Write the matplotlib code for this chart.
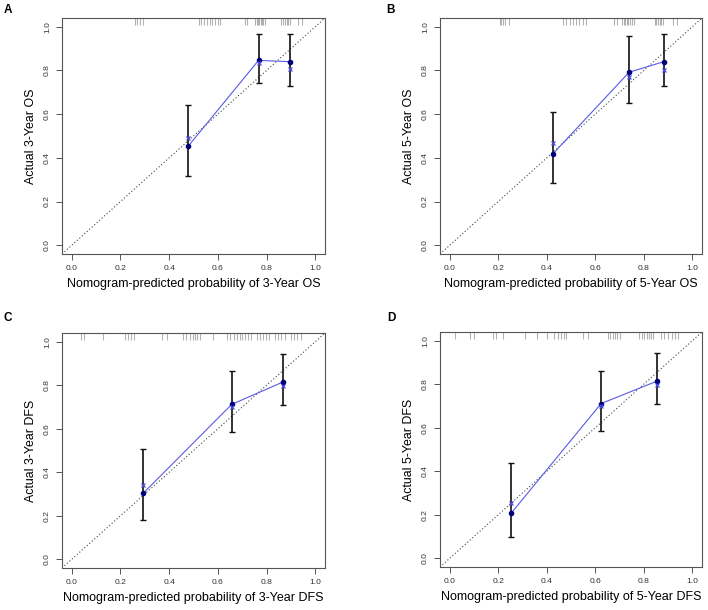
import matplotlib
matplotlib.use("Agg")
import matplotlib.pyplot as plt
import matplotlib.transforms as mtransforms

plt.rcParams['font.family'] = ['Liberation Sans', 'DejaVu Sans']

W, H = 708, 610

panel_letters = ["A", "B", "C", "D"]
x_labels = ["Nomogram-predicted probability of 3-Year OS",
            "Nomogram-predicted probability of 5-Year OS",
            "Nomogram-predicted probability of 3-Year DFS",
            "Nomogram-predicted probability of 5-Year DFS"]
y_labels = ["Actual 3-Year OS", "Actual 5-Year OS",
            "Actual 3-Year DFS", "Actual 5-Year DFS"]

# predicted (mean) probability per group
pred_A = [0.478, 0.767, 0.898]
pred_B = [0.425, 0.740, 0.882]
pred_C = [0.294, 0.657, 0.868]
pred_D = [0.254, 0.624, 0.854]
# observed (Kaplan-Meier) probability
obs_A = [0.453, 0.846, 0.840]
obs_B = [0.418, 0.792, 0.840]
obs_C = [0.304, 0.712, 0.815]
obs_D = [0.208, 0.711, 0.814]
# 95% CI lower / upper
low_A = [0.319, 0.742, 0.728]
up_A = [0.643, 0.969, 0.969]
low_B = [0.285, 0.653, 0.728]
up_B = [0.612, 0.957, 0.969]
low_C = [0.182, 0.585, 0.708]
up_C = [0.507, 0.864, 0.942]
low_D = [0.098, 0.585, 0.708]
up_D = [0.437, 0.863, 0.942]
# bias-corrected estimates
bc_A = [0.490, 0.832, 0.806]
bc_B = [0.469, 0.771, 0.800]
bc_C = [0.342, 0.698, 0.797]
bc_D = [0.252, 0.698, 0.798]

# rug: distribution of predicted probabilities
rug_A = [0.260, 0.269, 0.280, 0.294,
         0.521, 0.532, 0.544, 0.555, 0.566, 0.577, 0.588, 0.599, 0.610,
         0.712, 0.721, 0.754, 0.759, 0.765, 0.770, 0.776, 0.781, 0.786, 0.792,
         0.861, 0.868, 0.875, 0.882, 0.890, 0.898, 0.931, 0.944]
rug_B = [0.207, 0.212, 0.220, 0.227, 0.245,
         0.468, 0.480, 0.497, 0.508, 0.520, 0.535, 0.548, 0.560,
         0.676, 0.688, 0.712, 0.718, 0.724, 0.730, 0.736, 0.742, 0.750, 0.758,
         0.845, 0.852, 0.860, 0.866, 0.872, 0.880, 0.922, 0.936]
rug_C = [0.040, 0.050, 0.127, 0.220, 0.230, 0.245, 0.256,
         0.371, 0.392, 0.456, 0.470, 0.485, 0.497, 0.505, 0.515, 0.528,
         0.582, 0.637, 0.650, 0.665, 0.680, 0.690, 0.700, 0.712, 0.722, 0.738,
         0.760, 0.772, 0.785, 0.796, 0.810, 0.834, 0.846, 0.858, 0.876,
         0.902, 0.914, 0.926, 0.940]
rug_D = [0.023, 0.085, 0.100, 0.180, 0.192, 0.220, 0.310, 0.360, 0.400,
         0.430, 0.445, 0.460, 0.470, 0.480, 0.550, 0.570,
         0.653, 0.662, 0.672, 0.682, 0.690, 0.700,
         0.780, 0.792, 0.800, 0.812, 0.822, 0.830, 0.840,
         0.870, 0.885, 0.900, 0.915, 0.930, 0.940]

preds = [pred_A, pred_B, pred_C, pred_D]
obss = [obs_A, obs_B, obs_C, obs_D]
lows = [low_A, low_B, low_C, low_D]
ups = [up_A, up_B, up_C, up_D]
bcs = [bc_A, bc_B, bc_C, bc_D]
rugs = [rug_A, rug_B, rug_C, rug_D]
ticks = [0.0, 0.2, 0.4, 0.6, 0.8, 1.0]
tick_labels = ["0.0", "0.2", "0.4", "0.6", "0.8", "1.0"]

# pixel boxes: left, right, top, bottom
boxes = [(62, 325, 18, 254), (440, 702, 18, 254),
         (62, 325, 333, 568), (440, 702, 332, 567)]
letter_pos = [(4, 10), (386, 10), (4, 318), (387, 318)]

fig = plt.figure(figsize=(W / 100, H / 100), dpi=100)
fig.patch.set_facecolor("white")

for i in range(4):
    l, r, t, b = boxes[i]
    ax = fig.add_axes([l / W, (H - b) / H, (r - l) / W, (b - t) / H])
    ax.set_xlim(-0.04, 1.04)
    ax.set_ylim(-0.04, 1.04)
    for s in ax.spines.values():
        s.set_color("#555555")
        s.set_linewidth(0.8)
    ax.set_xticks(ticks)
    ax.set_xticklabels(tick_labels)
    ax.set_yticks(ticks)
    ax.set_yticklabels(tick_labels, rotation=90, va="center")
    ax.tick_params(direction="out", length=4, width=0.7, color="#555555",
                   labelsize=6.1, labelcolor="#333333", pad=4)
    ax.set_xlabel(x_labels[i], fontsize=9.0, labelpad=4)
    ax.set_ylabel(y_labels[i], fontsize=8.9, labelpad=5)

    # ideal line
    ax.axline((0, 0), (1, 1), color="#444444", lw=0.8, ls=(0, (1, 2)))

    # rug along the top
    trans = mtransforms.blended_transform_factory(ax.transData, ax.transAxes)
    for v in rugs[i]:
        ax.plot([v, v], [1.0, 0.972], transform=trans, color="black",
                alpha=0.3, lw=0.8, solid_capstyle="butt", clip_on=False)

    # error bars
    yerr = [[o - lo for o, lo in zip(obss[i], lows[i])],
            [u - o for o, u in zip(obss[i], ups[i])]]
    ax.errorbar(preds[i], obss[i], yerr=yerr, fmt="none", ecolor="#111111",
                elinewidth=1.2, capsize=2.5, capthick=1.0, zorder=3)
    # observed line and points
    ax.plot(preds[i], obss[i], color="#5a5ae6", lw=0.8, zorder=4)
    ax.plot(preds[i], obss[i], "o", color="#00007a", ms=3.0, zorder=5)
    # bias-corrected
    ax.plot(preds[i], bcs[i], "x", color="#4a4ae0", ms=3.5, mew=0.9, zorder=5)

    fig.text(letter_pos[i][0] / W, 1 - letter_pos[i][1] / H, panel_letters[i],
             fontsize=8.5, fontweight="bold", va="center", ha="left")

fig.savefig("out.png", dpi=100)
